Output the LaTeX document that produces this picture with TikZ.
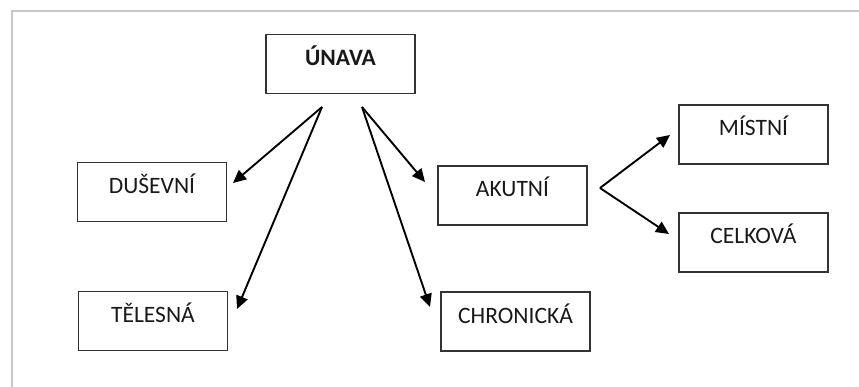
\documentclass[tikz,border=0pt]{standalone}
\usepackage{fontspec}
\setmainfont{Carlito}
\usetikzlibrary{arrows.meta}
\begin{document}
\begin{tikzpicture}[x=1pt,y=-1pt,
  box/.style={draw=black!80,line width=1.4pt,rectangle,minimum width=149pt,minimum height=59pt,
    inner sep=0pt,text height=15pt,text depth=12pt,font=\fontsize{23.5}{27}\selectfont,text=black!90},
  arr/.style={draw=black,line width=1.9pt,-{Triangle[length=13pt,width=12pt]}},
  frame/.style={draw=black!22,line width=2.2pt}]
\useasboundingbox (0,0) rectangle (859,387);
\draw[frame] (12,387) -- (12,11) -- (859,11);
\node[box,font=\fontsize{23.5}{27}\selectfont\bfseries] (unava) at (340.5,64) {ÚNAVA};
\node[box] (dus) at (152,192) {DUŠEVNÍ};
\node[box] (tel) at (153,321) {TĚLESNÁ};
\node[box] (aku) at (512.5,195.5) {AKUTNÍ};
\node[box] (chr) at (515.5,321.5) {CHRONICKÁ};
\node[box] (mis) at (753.5,134.5) {MÍSTNÍ};
\node[box] (cel) at (753.5,242.5) {CELKOVÁ};
\coordinate (ul) at (322,107);
\coordinate (ur) at (362,107);
\coordinate (ak) at (600,188);
\coordinate (dusin) at (233,183);
\coordinate (telin) at (237,309);
\coordinate (akuin) at (425,182);
\coordinate (chrin) at (430,307);
\coordinate (misin) at (670,135);
\coordinate (celin) at (669,234);
\draw[arr] (ul) -- (dusin);
\draw[arr] (ul) -- (telin);
\draw[arr] (ur) -- (akuin);
\draw[arr] (ur) -- (chrin);
\draw[arr] (ak) -- (misin);
\draw[arr] (ak) -- (celin);
\end{tikzpicture}
\end{document}
